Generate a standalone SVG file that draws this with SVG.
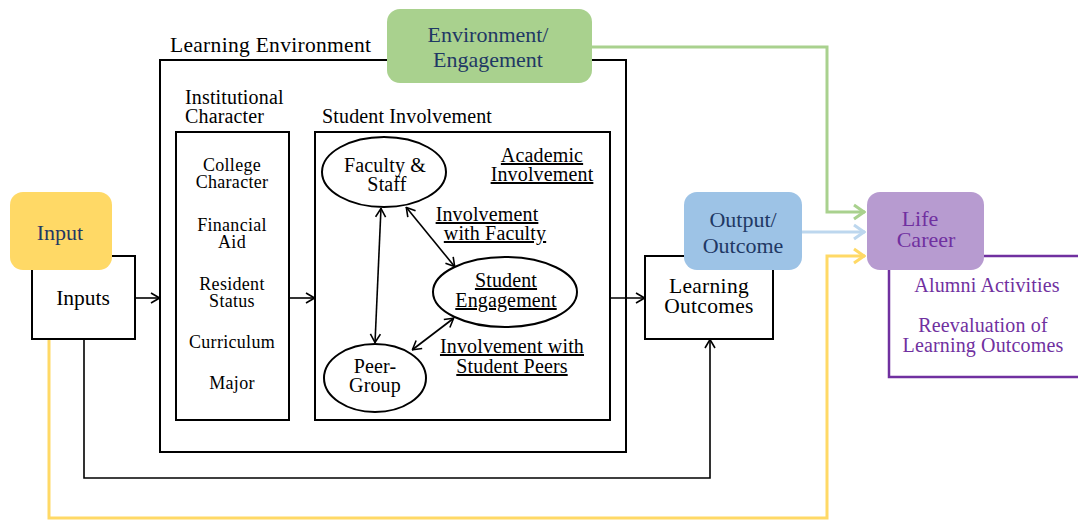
<svg xmlns="http://www.w3.org/2000/svg" width="1078" height="520" viewBox="0 0 1078 520">
  <style>
    text { font-family: "Liberation Serif", "Times New Roman", serif; fill: #000; }
    .xl { font-size: 21.5px; letter-spacing: 0.3px; }
    .lg { font-size: 21.5px; }
    .md { font-size: 20px; letter-spacing: 0.15px; }
    .sm { font-size: 18px; letter-spacing: 0.3px; }
    .mid { text-anchor: middle; }
    .navy { fill: #1F3864; font-size: 22px; }
    .purp { fill: #7030A0; }
    .u { text-decoration: underline; }
    .box { fill: #fff; stroke: #000; stroke-width: 2; }
    .frame { fill: none; stroke: #000; stroke-width: 2; }
    .ell { fill: #fff; stroke: #000; stroke-width: 2; }
    .ln { fill: none; stroke: #000; stroke-width: 1.6; }
  </style>
  <defs>
    <marker id="arr" viewBox="0 0 10 12" refX="10" refY="6" markerWidth="10" markerHeight="12" markerUnits="userSpaceOnUse" orient="auto-start-reverse">
      <path d="M1,1 L9.5,6 L1,11" fill="none" stroke="#000" stroke-width="1.6"/>
    </marker>
    <marker id="arrG" viewBox="0 0 14 18" refX="13" refY="9" markerWidth="14" markerHeight="18" markerUnits="userSpaceOnUse" orient="auto">
      <path d="M2,2 L12,9 L2,16" fill="none" stroke="#A9D18E" stroke-width="3"/>
    </marker>
    <marker id="arrB" viewBox="0 0 14 18" refX="13" refY="9" markerWidth="14" markerHeight="18" markerUnits="userSpaceOnUse" orient="auto">
      <path d="M2,2 L12,9 L2,16" fill="none" stroke="#BDD7EE" stroke-width="3"/>
    </marker>
    <marker id="arrY" viewBox="0 0 14 18" refX="13" refY="9" markerWidth="14" markerHeight="18" markerUnits="userSpaceOnUse" orient="auto">
      <path d="M2,2 L12,9 L2,16" fill="none" stroke="#FFD966" stroke-width="3"/>
    </marker>
  </defs>

  <rect width="1078" height="520" fill="#fff"/>

  <!-- outer learning environment frame -->
  <g id="learning-environment">
    <rect class="frame" x="160" y="60" width="466" height="392"/>
    <text class="xl" x="170" y="52">Learning Environment</text>
  </g>

  <!-- connectors -->
  <g id="connectors">
    <!-- yellow: input straight to life career -->
    <polyline points="49,270 49,518 827,518 827,256 865,256" fill="none" stroke="#FFD966" stroke-width="3" marker-end="url(#arrY)"/>
    <!-- green: environment/engagement to life career -->
    <polyline points="592,47 827,47 827,212 865,212" fill="none" stroke="#A9D18E" stroke-width="3" marker-end="url(#arrG)"/>
    <!-- blue: output to life career -->
    <line x1="802" y1="232" x2="865" y2="232" stroke="#BDD7EE" stroke-width="3" marker-end="url(#arrB)"/>
    <!-- purple bracket from life career -->
    <line x1="984" y1="256" x2="1078" y2="256" stroke="#7030A0" stroke-width="2.5"/>
    <polyline points="889,270 889,377 1078,377" fill="none" stroke="#7030A0" stroke-width="2.5"/>

    <!-- main flow -->
    <line class="ln" x1="135" y1="298" x2="160" y2="298" marker-end="url(#arr)"/>
    <line class="ln" x1="289" y1="298" x2="315" y2="298" marker-end="url(#arr)"/>
    <line class="ln" x1="610" y1="298" x2="645" y2="298" marker-end="url(#arr)"/>
    <polyline class="ln" points="84,339 84,478 710,478 710,339" marker-end="url(#arr)"/>

    <!-- involvement relations -->
    <line class="ln" x1="381" y1="208" x2="375" y2="343" marker-start="url(#arr)" marker-end="url(#arr)"/>
    <line class="ln" x1="406" y1="207" x2="455" y2="267" marker-start="url(#arr)" marker-end="url(#arr)"/>
    <line class="ln" x1="454" y1="318" x2="412" y2="350" marker-start="url(#arr)" marker-end="url(#arr)"/>
  </g>

  <g id="inputs">
    <rect class="box" x="32" y="256" width="103" height="83"/>
    <text class="lg mid" x="83" y="305">Inputs</text>
  </g>

  <g id="input">
    <rect x="10" y="192" width="102" height="78" rx="13" fill="#FFD966"/>
    <text class="mid navy" x="60" y="240">Input</text>
  </g>

  <g id="institutional-character">
    <text class="md" x="185" y="104">Institutional</text>
    <text class="md" x="185" y="123">Character</text>
    <rect class="frame" x="176" y="132" width="113" height="288"/>
    <text class="sm mid" x="232" y="171">College</text>
    <text class="sm mid" x="232" y="188">Character</text>
    <text class="sm mid" x="232" y="231">Financial</text>
    <text class="sm mid" x="232" y="248">Aid</text>
    <text class="sm mid" x="232" y="290">Resident</text>
    <text class="sm mid" x="232" y="307">Status</text>
    <text class="sm mid" x="232" y="348">Curriculum</text>
    <text class="sm mid" x="232" y="389">Major</text>
  </g>

  <g id="student-involvement">
    <text class="md" x="322" y="123">Student Involvement</text>
    <rect class="frame" x="315" y="132" width="295" height="288"/>
    <text class="md mid u" x="542" y="162">Academic </text>
    <text class="md mid u" x="542" y="181">Involvement</text>
    <text class="md mid u" x="487" y="221">Involvement </text>
    <text class="md mid u" x="495" y="240">with Faculty</text>
    <text class="md mid u" x="512" y="353">Involvement with </text>
    <text class="md mid u" x="512" y="373">Student Peers</text>
  </g>

  <g id="faculty-staff">
    <ellipse class="ell" cx="384" cy="172" rx="62" ry="35"/>
    <text class="md mid" x="385" y="172">Faculty &amp;</text>
    <text class="md mid" x="387" y="191">Staff</text>
  </g>

  <g id="student-engagement">
    <ellipse class="ell" cx="505" cy="292" rx="72" ry="35"/>
    <text class="md mid u" x="506" y="287">Student </text>
    <text class="md mid u" x="506" y="307">Engagement</text>
  </g>

  <g id="peer-group">
    <ellipse class="ell" cx="375" cy="378" rx="51" ry="34"/>
    <text class="md mid" x="375" y="373">Peer-</text>
    <text class="md mid" x="375" y="392">Group</text>
  </g>

  <g id="learning-outcomes">
    <rect class="box" x="645" y="256" width="128" height="83"/>
    <text class="xl mid" x="709" y="293">Learning</text>
    <text class="xl mid" x="709" y="313">Outcomes</text>
  </g>

  <g id="output-outcome">
    <rect x="684" y="192" width="118" height="78" rx="13" fill="#9DC3E6"/>
    <text class="mid navy" x="743" y="227">Output/</text>
    <text class="mid navy" x="743" y="253">Outcome</text>
  </g>

  <g id="environment-engagement">
    <rect x="387" y="9" width="205" height="74" rx="13" fill="#A9D18E"/>
    <text class="mid navy" x="488" y="42">Environment/</text>
    <text class="mid navy" x="488" y="67">Engagement</text>
  </g>

  <g id="life-career">
    <rect x="867" y="192" width="117" height="78" rx="13" fill="#B79BD0"/>
    <text class="mid purp" x="920" y="226" font-size="22">Life</text>
    <text class="mid purp" x="926" y="247" font-size="22">Career</text>
    <text class="md mid purp" x="987" y="292">Alumni Activities</text>
    <text class="md mid purp" x="983" y="332">Reevaluation of</text>
    <text class="md mid purp" x="983" y="352">Learning Outcomes</text>
  </g>
</svg>
